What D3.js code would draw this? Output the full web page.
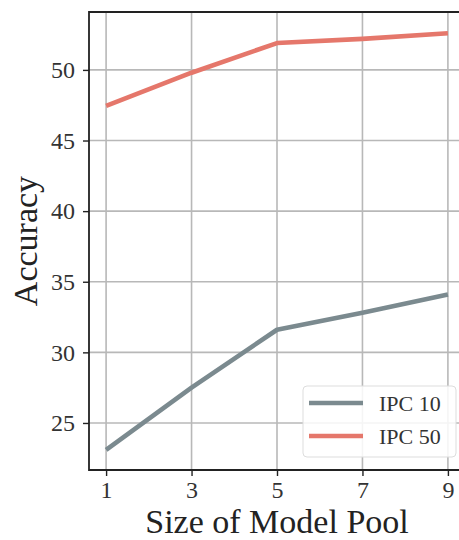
<!DOCTYPE html>
<html>
<head>
<meta charset="utf-8">
<script src="https://cdn.jsdelivr.net/npm/d3@7"></script>
<style>
  body { margin: 0; background: #fff; overflow: hidden; }
  svg { display: block; }
</style>
</head>
<body>
<script>
// Accuracy vs size of model pool

const poolSizes = [1, 3, 5, 7, 9];
const ipc10 = [23.1, 27.5, 31.6, 32.8, 34.1];
const ipc50 = [47.45, 49.8, 51.9, 52.2, 52.6];
const xTicks = [1, 3, 5, 7, 9];
const yTicks = [25, 30, 35, 40, 45, 50];
const seriesNames = ["IPC 10", "IPC 50"];
const seriesColors = ["#7b8a8f", "#e5776b"];

const outerWidth = 459, outerHeight = 540;
const margin = {top: 12, left: 89, right: 0, bottom: 70};
const innerWidth = outerWidth - margin.left - margin.right;
const innerHeight = outerHeight - margin.top - margin.bottom;

const svg = d3.select("body").append("svg")
    .attr("width", outerWidth)
    .attr("height", outerHeight)
    .style("font-family", "'Liberation Serif', 'Times New Roman', serif");

const g = svg.append("g")
    .attr("transform", `translate(${margin.left},${margin.top})`);

// the original axes run a little past the right edge (figure is cropped),
// so the scale range goes beyond innerWidth
const x = d3.scaleLinear().domain([0.6, 9.4]).range([0, innerWidth + 6]);
const y = d3.scaleLinear().domain([21.67, 54.1]).range([innerHeight, 0]);

// grid
g.append("g").selectAll("line").data(xTicks).join("line")
    .attr("x1", d => x(d)).attr("x2", d => x(d))
    .attr("y1", 0).attr("y2", innerHeight)
    .attr("stroke", "#b8b8b8").attr("stroke-width", 1.6);
g.append("g").selectAll("line").data(yTicks).join("line")
    .attr("x1", 0).attr("x2", innerWidth)
    .attr("y1", d => y(d)).attr("y2", d => y(d))
    .attr("stroke", "#b8b8b8").attr("stroke-width", 1.6);

// lines
const line = d3.line().x((d, i) => x(poolSizes[i])).y(d => y(d));
[ipc10, ipc50].forEach((vals, k) => {
  g.append("path")
    .datum(vals)
    .attr("d", line)
    .attr("fill", "none")
    .attr("stroke", seriesColors[k])
    .attr("stroke-width", 4.6)
    .attr("stroke-linejoin", "round");
});

// axes
const xAxis = g.append("g")
    .attr("transform", `translate(0,${innerHeight})`)
    .call(d3.axisBottom(x).tickValues(xTicks).tickSize(6).tickPadding(5));
const yAxis = g.append("g")
    .call(d3.axisLeft(y).tickValues(yTicks).tickSize(6).tickPadding(8));

[xAxis, yAxis].forEach(a => {
  a.select(".domain").remove();
  a.selectAll(".tick line").attr("stroke", "#222").attr("stroke-width", 1.4);
  a.selectAll(".tick text")
    .attr("fill", "#333")
    .attr("font-family", "'Liberation Serif', serif")
    .attr("font-size", 24);
});

// spines: left, top, bottom (right one is outside the crop)
g.append("path")
    .attr("d", `M${innerWidth},0H0V${innerHeight}H${innerWidth}`)
    .attr("fill", "none")
    .attr("stroke", "#222").attr("stroke-width", 1.8);

// axis titles
svg.append("text")
    .attr("x", margin.left + (innerWidth + 6) / 2)
    .attr("y", 533)
    .attr("text-anchor", "middle")
    .attr("fill", "#222")
    .style("font-size", "34px")
    .text("Size of Model Pool");

svg.append("text")
    .attr("transform", `translate(37,${margin.top + innerHeight / 2}) rotate(-90)`)
    .attr("text-anchor", "middle")
    .attr("fill", "#222")
    .style("font-size", "34px")
    .text("Accuracy");

// legend
const legend = svg.append("g").attr("transform", "translate(303,386)");
legend.append("rect")
    .attr("width", 153).attr("height", 71)
    .attr("rx", 4)
    .attr("fill", "#fff").attr("fill-opacity", 0.85)
    .attr("stroke", "#ddd").attr("stroke-width", 1);
seriesNames.forEach((name, i) => {
  const ly = 17 + i * 33;
  legend.append("line")
    .attr("x1", 6).attr("x2", 60)
    .attr("y1", ly).attr("y2", ly)
    .attr("stroke", seriesColors[i]).attr("stroke-width", 4.6);
  legend.append("text")
    .attr("x", 76).attr("y", ly + 8)
    .attr("fill", "#333")
    .style("font-size", "22px")
    .text(name);
});
</script>
</body>
</html>
